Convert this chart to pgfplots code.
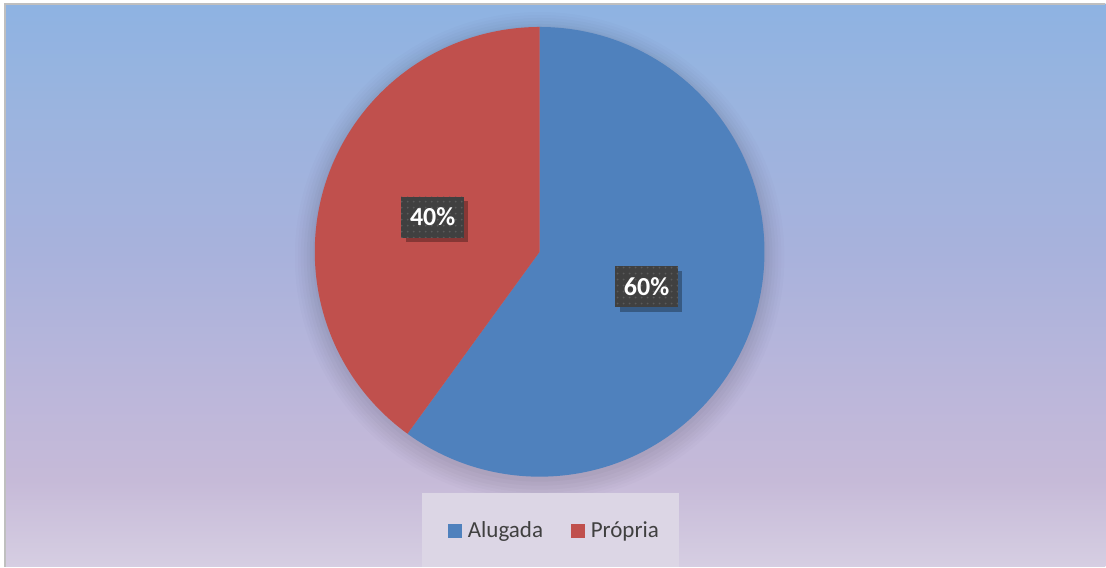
\documentclass[border=0pt]{standalone}
\usepackage{pgfplots}
\pgfplotsset{compat=1.18}
\usepackage{pgfplotstable}
\usepackage{fontspec}
\setmainfont{Carlito}
\usetikzlibrary{patterns.meta,calc}
\definecolor{pieblue}{HTML}{4F81BD}
\definecolor{piered}{HTML}{C0504D}
\definecolor{legbg}{HTML}{DCD6E5}
\definecolor{legtext}{HTML}{404040}
\definecolor{lblbox}{HTML}{404040}
\definecolor{framegray}{HTML}{BFBFBF}
\pgfdeclareverticalshading{bgshade}{100bp}{
  color(0bp)=(rgb,255:red,214;green,206;blue,226);
  color(25bp)=(rgb,255:red,214;green,206;blue,226);
  color(32.65bp)=(rgb,255:red,198;green,186;blue,216);
  color(39.75bp)=(rgb,255:red,189;green,183;blue,218);
  color(52.95bp)=(rgb,255:red,168;green,178;blue,220);
  color(66.2bp)=(rgb,255:red,154;green,180;blue,223);
  color(75bp)=(rgb,255:red,142;green,179;blue,226);
  color(100bp)=(rgb,255:red,142;green,179;blue,226)}
\pgfplotstableread{
name value
Alugada 60
Propria 40
}\piedata
\tikzset{lbl/.style={fill=lblbox, minimum width=63pt, minimum height=41pt, inner sep=0pt,
        postaction={pattern={Dots[distance=6pt, radius=1pt]}, pattern color=white!14!lblbox},
        text=white, font=\fontsize{26}{30}\selectfont\bfseries}}
\begin{document}
\begin{tikzpicture}
\pgfplotstablegetelem{0}{value}\of\piedata \pgfmathsetmacro{\va}{\pgfplotsretval}
\pgfplotstablegetelem{1}{value}\of\piedata \pgfmathsetmacro{\vb}{\pgfplotsretval}
\pgfmathsetmacro{\tot}{\va+\vb}
\pgfmathsetmacro{\fa}{\va/\tot}
\pgfmathsetmacro{\fb}{\vb/\tot}
\pgfmathsetmacro{\aA}{90}
\pgfmathsetmacro{\aB}{90-360*\fa}
\pgfmathsetmacro{\aC}{\aB-360*\fb}
\pgfmathsetmacro{\mA}{(\aA+\aB)/2}
\pgfmathsetmacro{\mB}{(\aB+\aC)/2}
\pgfmathtruncatemacro{\pA}{round(100*\fa)}
\pgfmathtruncatemacro{\pB}{round(100*\fb)}
\pgfmathsetmacro{\lxA}{540+112.5*cos(\mA)}
\pgfmathsetmacro{\lyA}{315+112.5*sin(\mA)}
\pgfmathsetmacro{\lxB}{540+112.5*cos(\mB)}
\pgfmathsetmacro{\lyB}{315+112.5*sin(\mB)}
\begin{axis}[
  x=1pt, y=1pt, xmin=0, xmax=1106, ymin=0, ymax=567,
  hide axis, clip=false, scale only axis,
]
% background
\fill[white] (axis cs:0,0) rectangle (axis cs:1106,567);
\shade[shading=bgshade] (axis cs:5,0) rectangle (axis cs:1106,563);
\draw[framegray, line width=1.5pt] (axis cs:5,0) -- (axis cs:5,563) -- (axis cs:1106,563);
% pie soft shadow
\fill[black, opacity=0.012] (axis cs:540,310) circle[radius=245pt];
\fill[black, opacity=0.012] (axis cs:540,310) circle[radius=242pt];
\fill[black, opacity=0.014] (axis cs:540,310) circle[radius=239pt];
\fill[black, opacity=0.016] (axis cs:540,310) circle[radius=236pt];
\fill[black, opacity=0.018] (axis cs:540,310) circle[radius=233pt];
\fill[black, opacity=0.02] (axis cs:540,311) circle[radius=230pt];
\fill[black, opacity=0.022] (axis cs:540,312) circle[radius=227pt];
% slices
\fill[pieblue] (axis cs:540,315) -- ++(\aA:225pt) arc[start angle=\aA, end angle=\aB, radius=225pt] -- cycle;
\fill[piered] (axis cs:540,315) -- ++(\aB:225pt) arc[start angle=\aB, end angle=\aC, radius=225pt] -- cycle;
% labels
\fill[black, opacity=0.3] ($(axis cs:\lxA,\lyA)+(-27pt,-25pt)$) rectangle ($(axis cs:\lxA,\lyA)+(35pt,16pt)$);
\node[lbl] at (axis cs:\lxA,\lyA) {\pA\%};
\fill[black, opacity=0.3] ($(axis cs:\lxB,\lyB)+(-27pt,-25pt)$) rectangle ($(axis cs:\lxB,\lyB)+(35pt,16pt)$);
\node[lbl] at (axis cs:\lxB,\lyB) {\pB\%};
% legend
\fill[legbg] (axis cs:422,0) rectangle (axis cs:679,74);
\fill[pieblue] (axis cs:448,29) rectangle (axis cs:462,43);
\node[anchor=base west, inner sep=0pt, text=legtext, font=\fontsize{23}{27}\selectfont] at (axis cs:468,29) {Alugada};
\fill[piered] (axis cs:571,29) rectangle (axis cs:585,43);
\node[anchor=base west, inner sep=0pt, text=legtext, font=\fontsize{23}{27}\selectfont] at (axis cs:591,29) {Própria};
\end{axis}
\end{tikzpicture}
\end{document}
